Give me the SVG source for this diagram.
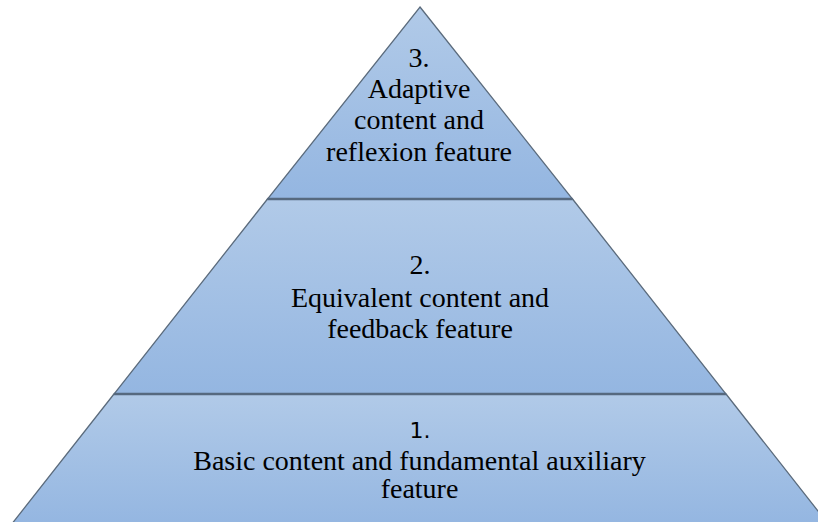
<svg xmlns="http://www.w3.org/2000/svg" width="818" height="522" viewBox="0 0 818 522">
  <style>
    .tier { stroke: #5b6b7c; stroke-width: 1.3; stroke-linejoin: miter; }
    .divider { stroke: #56697f; stroke-width: 2.4; }
    .label { font-family: "Liberation Serif", "Times New Roman", serif; font-size: 28px; fill: #000; text-anchor: middle; }
    .num-sans { font-family: "DejaVu Sans", "Liberation Sans", sans-serif; font-size: 22px; fill: #000; text-anchor: middle; }
  </style>
  <defs>
    <linearGradient id="bandFill" x1="0" y1="0" x2="0" y2="1">
      <stop offset="0" stop-color="#b1cae8"/>
      <stop offset="1" stop-color="#94b6e1"/>
    </linearGradient>
  </defs>
  <rect width="818" height="522" fill="#ffffff"/>

  <!-- top tier -->
  <g id="tier-3">
    <polygon class="tier" points="420,7 572.5,199 267.5,199" fill="url(#bandFill)"/>
    <text class="label" x="419" y="67">3.</text>
    <text class="label" x="419" y="98">Adaptive</text>
    <text class="label" x="419" y="129">content and</text>
    <text class="label" x="419" y="161">reflexion feature</text>
  </g>

  <!-- middle tier -->
  <g id="tier-2">
    <polygon class="tier" points="267.5,199 572.5,199 726,394 114,394" fill="url(#bandFill)"/>
    <text class="label" x="420" y="274">2.</text>
    <text class="label" x="420" y="307">Equivalent content and</text>
    <text class="label" x="420" y="338">feedback feature</text>
  </g>

  <!-- bottom tier -->
  <g id="tier-1">
    <polygon class="tier" points="114,394 726,394 829,525 11,525" fill="url(#bandFill)"/>
    <text class="num-sans" x="420" y="438">1.</text>
    <text class="label" x="419.5" y="470">Basic content and fundamental auxiliary</text>
    <text class="label" x="419.5" y="498">feature</text>
  </g>

  <!-- tier boundaries -->
  <g id="connectors">
    <line class="divider" x1="267.5" y1="199" x2="572.5" y2="199"/>
    <line class="divider" x1="114" y1="394" x2="726" y2="394"/>
  </g>
</svg>
